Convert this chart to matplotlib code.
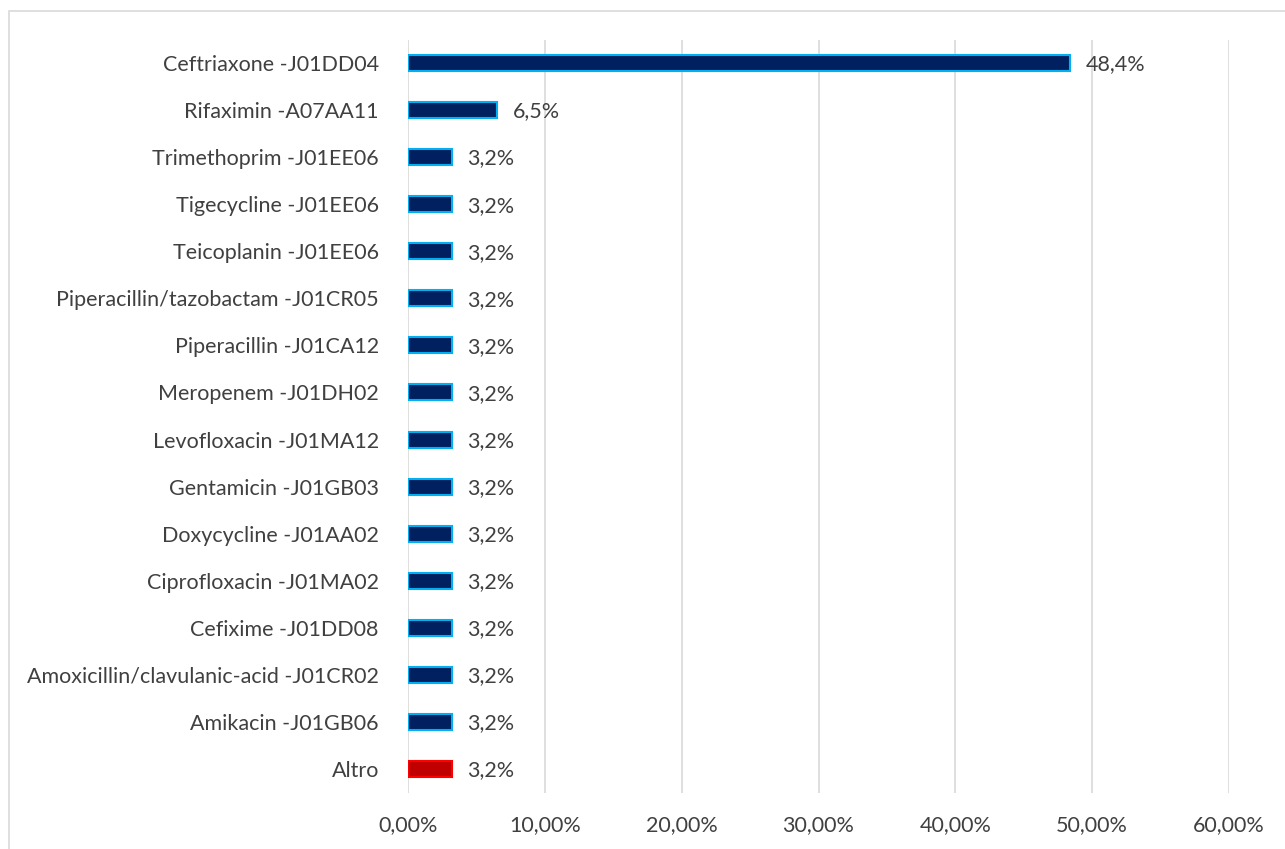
import matplotlib.pyplot as plt
from matplotlib.patches import Rectangle

labels = [
    'Ceftriaxone -J01DD04',
    'Rifaximin -A07AA11',
    'Trimethoprim -J01EE06',
    'Tigecycline -J01EE06',
    'Teicoplanin -J01EE06',
    'Piperacillin/tazobactam -J01CR05',
    'Piperacillin -J01CA12',
    'Meropenem -J01DH02',
    'Levofloxacin -J01MA12',
    'Gentamicin -J01GB03',
    'Doxycycline -J01AA02',
    'Ciprofloxacin -J01MA02',
    'Cefixime -J01DD08',
    'Amoxicillin/clavulanic-acid -J01CR02',
    'Amikacin -J01GB06',
    'Altro',
]
values = [48.4, 6.5, 3.2, 3.2, 3.2, 3.2, 3.2, 3.2, 3.2, 3.2, 3.2, 3.2, 3.2, 3.2, 3.2, 3.2]
xticks = [0, 10, 20, 30, 40, 50, 60]

plt.rcParams['font.family'] = ['Lato', 'DejaVu Sans']
txt = '#404040'
fs = 15.5

fig = plt.figure(figsize=(12.85, 8.49), dpi=100)
W, H = 1285, 849
ax = fig.add_axes([408 / W, 1 - 792.5 / H, (1229 - 408) / W, (792.5 - 39.5) / H])

# frame around the chart (cropped on right and bottom)
fig.patches.append(Rectangle((9 / W, -0.01), 1.0, 1 - 11 / H + 0.01, transform=fig.transFigure,
                             fill=False, edgecolor='#D9D9D9', linewidth=1.2))

ypos = list(range(len(labels)))
faces = ['#002060'] * (len(labels) - 1) + ['#C00000']
edges = ['#00B0F0'] * (len(labels) - 1) + ['#FF0000']
ax.barh(ypos, values, height=0.34, color=faces, edgecolor=edges, linewidth=1.5, zorder=3)

for y, v in zip(ypos, values):
    ax.text(v + 1.15, y + 0.03, f'{v:.1f}%'.replace('.', ','), va='center', ha='left',
            fontsize=fs, color=txt)

ax.set_ylim(len(labels) - 0.5, -0.5)
ax.set_xlim(0, 60)
ax.set_yticks(ypos)
ax.set_yticklabels(labels, fontsize=fs, color=txt)
ax.set_xticks(xticks)
ax.set_xticklabels([f'{t:.2f}%'.replace('.', ',') for t in xticks], fontsize=fs, color=txt)
ax.tick_params(axis='y', length=0, pad=21)
ax.tick_params(axis='x', length=0, pad=16)
ax.grid(axis='x', color='#D9D9D9', linewidth=1.2, zorder=0)
for s in ax.spines.values():
    s.set_visible(False)

fig.savefig('out.png', dpi=100)
